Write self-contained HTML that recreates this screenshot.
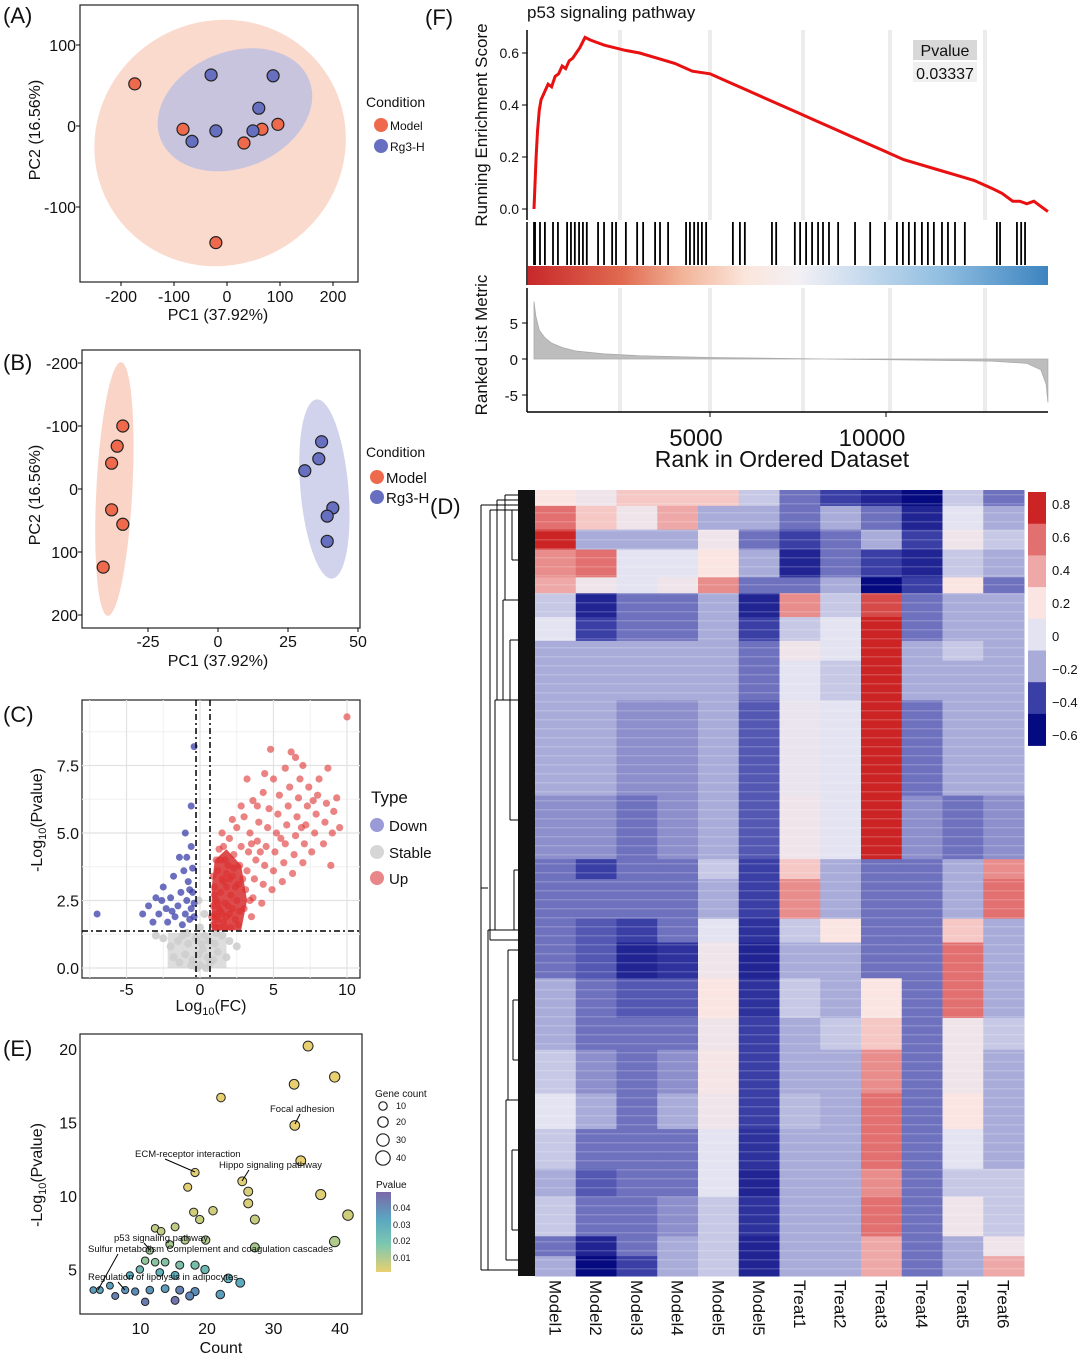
<!DOCTYPE html>
<html><head><meta charset="utf-8">
<style>
html,body{margin:0;padding:0;background:#fff}
svg{display:block;font-family:"Liberation Sans",Arial,sans-serif}
</style></head>
<body>
<svg id="fig" width="1080" height="1360" viewBox="0 0 1080 1360" xmlns="http://www.w3.org/2000/svg">
<defs>
<linearGradient id="rankbar" x1="0" x2="1" y1="0" y2="0">
<stop offset="0" stop-color="#c8282a"/><stop offset="0.18" stop-color="#e06a50"/><stop offset="0.3" stop-color="#f2b59a"/><stop offset="0.42" stop-color="#fbe6dc"/><stop offset="0.52" stop-color="#f3f0f4"/><stop offset="0.62" stop-color="#cfdff0"/><stop offset="0.8" stop-color="#8fbde0"/><stop offset="1" stop-color="#3d84c0"/>
</linearGradient>
<linearGradient id="pgrad" x1="0" x2="0" y1="0" y2="1">
<stop offset="0" stop-color="#7b68a8"/><stop offset="0.35" stop-color="#5aa8c0"/><stop offset="0.65" stop-color="#7cc7b0"/><stop offset="1" stop-color="#e8d070"/>
</linearGradient>
</defs>
</svg>
<script>
// ---------- DATA ----------
// Panel A (PCA)
const aModelX=[-174,-83,32,66,96,-21], aModelY=[52,-4,-21,-4,2,-144];
const aRgX=[-30,87,60,-66,-21,49], aRgY=[63,62,22,-19,-6,-6];
const aTicksX=[-200,-100,0,100,200], aTicksY=[100,0,-100];
// Panel B
const bModelX=[-34,-36,-38,-38,-34,-41], bModelY=[-100,-68,-41,33,56,124];
const bRgX=[37,36,31,41,39,39], bRgY=[-75,-48,-29,30,43,83];
const bTicksX=[-25,0,25,50], bTicksY=[-200,-100,0,100,200];
// Panel C (volcano)
const upPts=[[0.9,1.6],[1.0,2.0],[1.1,2.5],[1.0,3.0],[1.2,1.8],[1.3,2.2],[1.4,2.8],[1.5,3.3],[1.2,3.6],[1.6,1.7],[1.7,2.4],[1.8,3.0],[1.9,3.8],[2.0,2.0],[2.1,2.7],[2.2,3.4],[2.3,4.2],[1.4,4.0],[1.6,4.5],[2.0,4.8],[2.4,1.8],[2.5,2.5],[2.6,3.1],[2.7,3.8],[2.8,4.5],[2.5,5.2],[3.0,2.2],[3.1,2.9],[3.2,3.6],[3.3,4.3],[3.4,5.0],[3.0,5.6],[2.8,6.0],[3.5,1.9],[3.6,2.6],[3.7,3.3],[3.8,4.0],[3.9,4.7],[4.0,5.4],[3.6,6.2],[4.2,2.4],[4.3,3.1],[4.4,3.8],[4.5,4.5],[4.6,5.2],[4.7,5.9],[4.3,6.5],[4.9,2.9],[5.0,3.6],[5.1,4.3],[5.2,5.0],[5.3,5.7],[5.4,6.4],[5.0,7.0],[5.6,3.2],[5.7,3.9],[5.8,4.6],[5.9,5.3],[6.0,6.0],[6.1,6.7],[5.8,7.4],[6.3,3.5],[6.4,4.2],[6.5,4.9],[6.6,5.6],[6.7,6.3],[6.8,7.0],[6.5,7.8],[7.0,3.9],[7.1,4.6],[7.2,5.3],[7.3,6.0],[7.4,6.7],[7.0,7.5],[7.6,4.3],[7.8,5.0],[7.9,5.7],[8.0,6.4],[8.1,7.0],[8.4,4.6],[8.5,5.4],[8.6,6.1],[9.0,5.0],[9.1,5.8],[9.3,6.3],[8.9,3.8],[9.5,5.2],[4.8,8.1],[6.2,8.0],[3.2,7.0],[10.0,9.3],[1.1,1.5],[1.3,1.5],[1.5,2.0],[1.7,1.5],[2.1,1.5],[1.8,1.9],[0.9,2.3],[1.0,2.7],[1.2,2.4],[1.4,2.1],[2.2,2.2],[2.6,1.6],[1.6,3.2],[2.0,3.3],[2.4,3.0],[1.8,3.5],[1.5,5.0],[2.2,5.5],[1.3,4.4],[0.9,3.4],[1.1,4.0],[1.7,4.0],[2.3,3.7],[2.9,3.3],[3.4,2.5],[2.7,2.1],[1.9,2.3],[1.1,1.9],[0.8,1.9],[4.1,4.3],[3.5,4.6],[5.5,4.8],[6.9,5.2],[7.7,6.2],[8.7,7.4],[4.4,7.2],[3.9,6.0]];
const downPts=[[-7,2.0],[-3.9,2.0],[-3.5,2.3],[-3.2,1.7],[-3.0,2.6],[-2.8,2.0],[-2.5,3.0],[-2.3,2.2],[-2.2,1.7],[-2.0,2.6],[-1.8,3.4],[-1.7,1.9],[-1.5,2.3],[-1.3,2.8],[-1.2,1.6],[-1.0,2.0],[-0.9,2.5],[-0.8,3.2],[-0.7,1.8],[-0.6,2.2],[-0.5,2.8],[-0.9,4.1],[-0.6,4.5],[-1.0,5.0],[-1.4,4.1],[-0.6,6.0],[-0.4,8.2],[-0.5,3.7],[-2.6,2.5],[-1.9,2.1],[-1.1,3.6],[-0.4,1.9],[-0.7,2.9],[-0.4,2.4]];
const stablePts=[[-2,0.8],[-1.5,1.0],[-1,0.5],[-0.5,0.3],[0,0.1],[0.5,0.4],[1,0.9],[1.5,1.2],[-1.2,1.2],[-0.8,0.9],[0.2,0.7],[0.7,0.2],[-0.3,1.1],[0.3,1.2],[1.2,0.6],[-1.8,0.4],[-2.5,1.1],[2,1.0],[-0.1,0.5],[0.1,0.9],[-0.6,0.1],[0.6,1.0],[0.9,0.3],[-1.4,0.2],[1.8,0.4],[-0.2,0.0],[0.4,0.0],[-3,1.2],[2.5,0.8],[-0.9,1.3],[1.1,1.3],[0,1.5],[0.3,2.0],[-0.1,2.5]];
const cTicksX=[-5,0,5,10], cTicksY=[0,2.5,5,7.5];
// Panel E (KEGG bubble)
const eCount=[35.2,39.2,33.1,22.1,33.2,18.2,25.3,34.1,26.2,26.2,37.1,17.1,20.9,18.0,18.9,27.2,41.2,12.2,13.1,15.2,16.7,19.8,14.4,11.4,39.2,27.2,10.7,12.2,13.7,15.9,18.2,9.9,8.4,12.9,15.2,19.7,5.4,7.7,9.2,11.4,13.7,15.9,18.2,22.0,3.9,10.7,15.2,17.4,2.9,6.2,25.0,23.2];
const eLogP=[20.2,18.1,17.6,16.7,14.8,11.6,11.0,12.4,10.3,9.5,10.1,10.6,9.0,8.9,8.4,8.4,8.7,7.8,7.6,7.9,7.0,7.0,6.7,6.3,6.9,6.5,5.6,5.5,5.5,5.3,5.3,5.0,4.6,4.8,4.6,5.0,3.9,3.6,3.5,3.6,3.7,3.6,3.5,3.3,3.6,2.8,2.9,3.2,3.6,3.2,4.1,4.4];
const ePval=[0.005,0.005,0.005,0.005,0.005,0.006,0.006,0.005,0.007,0.007,0.006,0.006,0.008,0.008,0.009,0.009,0.008,0.010,0.010,0.010,0.012,0.012,0.013,0.014,0.012,0.013,0.016,0.017,0.018,0.019,0.020,0.022,0.025,0.024,0.025,0.022,0.030,0.032,0.035,0.033,0.030,0.038,0.035,0.030,0.028,0.040,0.042,0.036,0.030,0.038,0.026,0.024];
const eTicksX=[10,20,30,40], eTicksY=[5,10,15,20];
// Panel F (GSEA)
const esRank=[0,30,60,100,150,200,300,400,500,600,700,800,900,1000,1100,1200,1300,1450,1600,1800,2000,2300,2600,3000,3500,4000,4500,5000,5500,6000,6500,7000,7500,8000,8500,9000,9500,10000,10500,11000,11500,12000,12500,13000,13300,13600,13800,14000,14200,14400,14600];
const esVal=[0,0.10,0.20,0.30,0.38,0.42,0.45,0.48,0.47,0.51,0.52,0.55,0.54,0.57,0.58,0.60,0.62,0.66,0.65,0.64,0.63,0.62,0.61,0.60,0.58,0.56,0.53,0.52,0.49,0.46,0.43,0.40,0.37,0.34,0.31,0.28,0.25,0.22,0.19,0.17,0.15,0.13,0.11,0.08,0.06,0.03,0.03,0.02,0.03,0.01,-0.01];
const hitRanks=[0,30,170,310,540,680,940,1050,1160,1280,1390,1500,1820,1990,2220,2330,2610,2930,3100,3440,3580,3810,4320,4430,4550,4660,4770,4890,5650,5850,5990,6760,6880,7410,7560,7730,7900,8070,8210,8380,8640,9120,9550,9970,10310,10480,10650,10820,11020,11190,11360,11590,11760,11960,12240,13150,13240,13720,13840,13950];
const metRank=[0,50,150,300,500,800,1200,2000,3000,5000,7500,9000,11000,13000,14000,14400,14550,14600];
const metVal=[8,6,4,3,2.2,1.6,1.1,0.7,0.45,0.2,0.05,-0.05,-0.15,-0.3,-0.6,-1.5,-3.5,-6];
const fTicksX=[5000,10000], esTicks=[0,0.2,0.4,0.6], metTicks=[-5,0,5];
// Panel D (heatmap)
const hmCols=["Model1","Model2","Model3","Model4","Model5","Model5","Treat1","Treat2","Treat3","Treat4","Treat5","Treat6"];
const hmRowFrac=[0.02,0.03,0.025,0.035,0.02,0.03,0.03,0.025,0.05,0.12,0.08,0.025,0.05,0.03,0.045,0.05,0.04,0.055,0.045,0.05,0.035,0.05,0.025,0.025];
const hmVals=[
[0.2,0.1,0.3,0.3,0.3,-0.1,-0.3,-0.4,-0.5,-0.6,-0.1,-0.3],
[0.6,0.3,0.1,0.4,-0.2,-0.2,-0.3,-0.2,-0.3,-0.5,0.0,-0.2],
[0.8,-0.2,-0.2,-0.2,0.1,-0.3,-0.4,-0.3,-0.2,-0.4,0.1,-0.1],
[0.5,0.6,0.0,0.0,0.2,-0.2,-0.5,-0.3,-0.4,-0.5,-0.1,-0.2],
[0.4,0.1,0.0,0.1,0.5,-0.3,-0.3,-0.2,-0.6,-0.4,0.2,-0.3],
[-0.1,-0.5,-0.3,-0.3,-0.2,-0.5,0.5,-0.1,0.7,-0.3,-0.2,-0.2],
[0.0,-0.4,-0.3,-0.3,-0.2,-0.4,-0.1,0.0,0.8,-0.3,-0.2,-0.2],
[-0.2,-0.2,-0.2,-0.2,-0.2,-0.3,0.1,0.0,0.8,-0.2,-0.1,-0.2],
[-0.2,-0.2,-0.2,-0.2,-0.2,-0.3,0.0,-0.1,0.8,-0.2,-0.2,-0.2],
[-0.2,-0.2,-0.25,-0.25,-0.2,-0.35,0.05,0.0,0.8,-0.3,-0.2,-0.2],
[-0.25,-0.25,-0.3,-0.25,-0.2,-0.35,0.1,0.0,0.8,-0.25,-0.3,-0.25],
[-0.3,-0.4,-0.3,-0.3,-0.1,-0.4,0.3,-0.2,-0.3,-0.3,-0.2,0.5],
[-0.3,-0.3,-0.3,-0.3,-0.2,-0.4,0.5,-0.2,-0.3,-0.3,-0.2,0.6],
[-0.3,-0.35,-0.4,-0.3,0.0,-0.45,-0.1,0.2,-0.3,-0.3,0.3,-0.2],
[-0.3,-0.35,-0.5,-0.45,0.1,-0.5,-0.2,-0.2,-0.3,-0.3,0.6,-0.2],
[-0.2,-0.3,-0.35,-0.35,0.2,-0.45,-0.1,-0.2,0.2,-0.3,0.6,-0.2],
[-0.2,-0.3,-0.3,-0.3,0.1,-0.4,-0.2,-0.1,0.3,-0.3,0.1,-0.1],
[-0.1,-0.25,-0.3,-0.25,0.15,-0.4,-0.2,-0.2,0.5,-0.3,0.1,-0.2],
[0.0,-0.2,-0.3,-0.2,0.1,-0.4,-0.15,-0.2,0.6,-0.3,0.2,-0.2],
[-0.1,-0.3,-0.3,-0.3,0.0,-0.45,-0.2,-0.2,0.6,-0.3,0.0,-0.2],
[-0.2,-0.35,-0.3,-0.3,0.0,-0.5,-0.2,-0.2,0.5,-0.3,-0.1,-0.1],
[-0.1,-0.3,-0.3,-0.25,-0.1,-0.45,-0.2,-0.2,0.6,-0.3,0.1,-0.1],
[-0.3,-0.5,-0.3,-0.2,-0.1,-0.5,-0.2,-0.2,0.4,-0.3,-0.2,0.1],
[-0.2,-0.6,-0.4,-0.2,-0.1,-0.5,-0.2,-0.2,0.4,-0.3,-0.2,0.4]];
const legVals=[0.8,0.6,0.4,0.2,0,-0.2,-0.4,-0.6];

// ---------- HELPERS ----------
const NS="http://www.w3.org/2000/svg", svg=document.getElementById('fig');
function add(tag,attrs,name,parent,inter){
  const el=document.createElementNS(NS,tag);
  for(const k in attrs) el.setAttribute(k,attrs[k]);
  
  
  (parent||svg).appendChild(el); return el;
}
function txt(x,y,s,name,opt){
  opt=opt||{};
  const t=add('text',{x:x,y:y,'font-size':opt.fs||16,'text-anchor':opt.anchor||'start',fill:opt.fill||'#111','font-weight':opt.fw||'normal'},name);
  if(opt.rot) t.setAttribute('transform','rotate('+opt.rot+' '+x+' '+y+')');
  t.textContent=s; return t;
}
function line(x1,y1,x2,y2,name,st,w,dash){return add('line',{x1:x1,y1:y1,x2:x2,y2:y2,stroke:st||'#000','stroke-width':w||1,'stroke-dasharray':dash||'none'},name);}

// ---------- PANEL A ----------
const ax=v=>227+v*0.53, ay=v=>126-v*0.81;
add('rect',{x:80,y:5,width:278,height:277,fill:'#fff',stroke:'#222','stroke-width':1.2},'panel-a-frame');
add('ellipse',{cx:ax(-13),cy:ay(-21),rx:127,ry:122,fill:'#f9cdbd','fill-opacity':0.75,transform:'rotate(-30 '+ax(-13)+' '+ay(-21)+')'},'model-ellipse-a');
add('ellipse',{cx:ax(15),cy:ay(20),rx:80,ry:58,fill:'#b8bce2','fill-opacity':0.75,transform:'rotate(-22 '+ax(15)+' '+ay(20)+')'},'rg3h-ellipse-a');
aModelX.forEach((v,i)=>add('circle',{cx:ax(v),cy:ay(aModelY[i]),r:6,fill:'#ef6a4c',stroke:'#222','stroke-width':1.2},'model-point-a'));
aRgX.forEach((v,i)=>add('circle',{cx:ax(v),cy:ay(aRgY[i]),r:6,fill:'#6770c0',stroke:'#222','stroke-width':1.2},'rg3h-point-a'));
aTicksX.forEach(v=>{line(ax(v),282,ax(v),286,'x-tick-a');txt(ax(v),302,String(v),'x-tick-label-a',{anchor:'middle'});});
aTicksY.forEach(v=>{line(76,ay(v),80,ay(v),'y-tick-a');txt(76,ay(v)+6,String(v),'y-tick-label-a',{anchor:'end'});});
txt(218,320,'PC1 (37.92%)','x-axis-title-a',{anchor:'middle'});
txt(40,130,'PC2 (16.56%)','y-axis-title-a',{anchor:'middle',rot:-90});
txt(3,23,'(A)','panel-label-a',{fs:22});
txt(366,107,'Condition','legend-title-a',{fs:14});
add('circle',{cx:381,cy:125,r:7,fill:'#ef6a4c'},'legend-model-dot-a');txt(390,130,'Model','legend-model-a',{fs:12});
add('circle',{cx:381,cy:146,r:7,fill:'#6770c0'},'legend-rg3h-dot-a');txt(390,151,'Rg3-H','legend-rg3h-a',{fs:12});

// ---------- PANEL B ----------
const bx=v=>218+v*2.8, by=v=>489+v*0.63;
add('rect',{x:82,y:350,width:278,height:278,fill:'#fff',stroke:'#222','stroke-width':1.2},'panel-b-frame');
add('ellipse',{cx:bx(-37),cy:by(0),rx:18,ry:127,fill:'#f9cdbd','fill-opacity':0.85,transform:'rotate(3 '+bx(-37)+' '+by(0)+')'},'model-ellipse-b');
add('ellipse',{cx:bx(38),cy:by(0),rx:24,ry:90,fill:'#c8cbe8','fill-opacity':0.85,transform:'rotate(-5 '+bx(38)+' '+by(0)+')'},'rg3h-ellipse-b');
bModelX.forEach((v,i)=>add('circle',{cx:bx(v),cy:by(bModelY[i]),r:6,fill:'#ef6a4c',stroke:'#222','stroke-width':1.2},'model-point-b'));
bRgX.forEach((v,i)=>add('circle',{cx:bx(v),cy:by(bRgY[i]),r:6,fill:'#6770c0',stroke:'#222','stroke-width':1.2},'rg3h-point-b'));
bTicksX.forEach(v=>{line(bx(v),628,bx(v),632,'x-tick-b');txt(bx(v),647,String(v),'x-tick-label-b',{anchor:'middle'});});
bTicksY.forEach(v=>{line(78,by(v),82,by(v),'y-tick-b');txt(78,by(v)+6,String(v),'y-tick-label-b',{anchor:'end'});});
txt(218,666,'PC1 (37.92%)','x-axis-title-b',{anchor:'middle'});
txt(40,495,'PC2 (16.56%)','y-axis-title-b',{anchor:'middle',rot:-90});
txt(3,370,'(B)','panel-label-b',{fs:22});
txt(366,457,'Condition','legend-title-b',{fs:14});
add('circle',{cx:377,cy:477,r:7,fill:'#ef6a4c'},'legend-model-dot-b');txt(386,483,'Model','legend-model-b',{fs:15});
add('circle',{cx:377,cy:497,r:7,fill:'#6770c0'},'legend-rg3h-dot-b');txt(386,503,'Rg3-H','legend-rg3h-b',{fs:15});

// ---------- PANEL C ----------
const cx=v=>200+v*14.7, cy=v=>968-v*27;
add('rect',{x:82,y:700,width:278,height:278,fill:'#fff',stroke:'#222','stroke-width':1.2},'panel-c-frame');
[-7.5,-2.5,2.5,7.5].forEach(v=>line(cx(v),700,cx(v),978,'minor-grid-c','#f0f0f0',1));
[1.25,3.75,6.25,8.75].forEach(v=>line(82,cy(v),360,cy(v),'minor-grid-c','#f0f0f0',1));
cTicksX.forEach(v=>line(cx(v),700,cx(v),978,'grid-x-c','#e2e2e2',1.2));
cTicksY.forEach(v=>line(82,cy(v),360,cy(v),'grid-y-c','#e2e2e2',1.2));
stablePts.forEach(p=>add('circle',{cx:cx(p[0]),cy:cy(p[1]),r:4,fill:'#c8c8c8','fill-opacity':0.8},'stable-point'));
add('rect',{x:cx(-2.2),y:cy(1.3),width:cx(1.8)-cx(-2.2),height:cy(0)-cy(1.3),fill:'#cfcfcf','fill-opacity':0.7},'stable-cloud');
downPts.forEach(p=>add('circle',{cx:cx(p[0]),cy:cy(p[1]),r:3.5,fill:'#3a3fa8','fill-opacity':0.75},'down-point'));
add('polygon',{points:[[0.8,1.4],[2.8,1.4],[3.2,2.5],[2.8,3.8],[1.8,4.4],[1.0,4.0],[0.8,3]].map(p=>cx(p[0])+','+cy(p[1])).join(' '),fill:'#d42020','fill-opacity':0.8},'up-cloud');
upPts.forEach(p=>add('circle',{cx:cx(p[0]),cy:cy(p[1]),r:3.6,fill:'#dd3030','fill-opacity':0.6},'up-point'));
line(cx(-0.27),700,cx(-0.27),978,'fc-threshold-down','#000',1.5,'6,3,2,3');
line(cx(0.68),700,cx(0.68),978,'fc-threshold-up','#000',1.5,'6,3,2,3');
line(82,cy(1.37),360,cy(1.37),'pvalue-threshold','#000',1.5,'6,3,2,3');
cTicksX.forEach(v=>txt(cx(v),995,String(v),'x-tick-label-c',{anchor:'middle'}));
cTicksY.forEach(v=>txt(79,cy(v)+6,v.toFixed(1),'y-tick-label-c',{anchor:'end'}));
(function(){const t=txt(211,1011,'Log','x-axis-title-c',{anchor:'middle'});t.innerHTML='Log<tspan font-size="11" dy="4">10</tspan><tspan dy="-4">(FC)</tspan>';})();
(function(){const t=txt(42,820,'','y-axis-title-c',{anchor:'middle',rot:-90});t.innerHTML='-Log<tspan font-size="11" dy="4">10</tspan><tspan dy="-4">(Pvalue)</tspan>';})();
txt(3,722,'(C)','panel-label-c',{fs:22});
txt(371,803,'Type','legend-title-c',{fs:17});
[['Down','#9a9ad8',825],['Stable','#d6d6d6',852],['Up','#e8868a',878]].forEach(d=>{add('circle',{cx:377,cy:d[2],r:7,fill:d[1]},'legend-dot-c');txt(389,d[2]+6,d[0],'legend-label-c',{fs:15});});

// ---------- PANEL E ----------
const ex=v=>74+v*6.65, ey=v=>1343-v*14.7;
add('rect',{x:80,y:1034,width:282,height:280,fill:'#fff',stroke:'#222','stroke-width':1.2},'panel-e-frame');
function pcol(p){const st=[[0.005,[232,208,112]],[0.015,[150,200,150]],[0.025,[90,175,190]],[0.035,[90,140,185]],[0.045,[123,104,168]]];
 if(p<=st[0][0])return 'rgb('+st[0][1]+')';for(let i=1;i<st.length;i++){if(p<=st[i][0]){const f=(p-st[i-1][0])/(st[i][0]-st[i-1][0]);return 'rgb('+st[i][1].map((c,j)=>Math.round(st[i-1][1][j]+f*(c-st[i-1][1][j]))).join(',')+')';}}return 'rgb('+st[4][1]+')';}
eCount.forEach((c,i)=>add('circle',{cx:ex(c),cy:ey(eLogP[i]),r:3.2+c*0.05,fill:pcol(ePval[i]),stroke:'#222','stroke-width':1},'kegg-bubble'));
eTicksX.forEach(v=>txt(ex(v),1334,String(v),'x-tick-label-e',{anchor:'middle'}));
eTicksY.forEach(v=>txt(77,ey(v)+6,String(v),'y-tick-label-e',{anchor:'end'}));
txt(221,1353,'Count','x-axis-title-e',{anchor:'middle'});
(function(){const t=txt(42,1175,'','y-axis-title-e',{anchor:'middle',rot:-90});t.innerHTML='-Log<tspan font-size="11" dy="4">10</tspan><tspan dy="-4">(Pvalue)</tspan>';})();
txt(3,1056,'(E)','panel-label-e',{fs:22});
[['Focal adhesion',270,1112,295,1124],['ECM-receptor interaction',135,1157,195,1172],['Hippo signaling pathway',219,1168,242,1181],['p53 signaling pathway',114,1241,150,1250],['Sulfur metabolism Complement and coagulation cascades',88,1252,98,1290],['Regulation of lipolysis in adipocytes',88,1280,125,1290]].forEach(d=>{line(d[1]+30,d[2]+2,d[3],d[4],'label-leader');txt(d[1],d[2],d[0],'pathway-label',{fs:9.5});});
txt(375,1097,'Gene count','legend-title-gene-count',{fs:10});
[[10,1106],[20,1122],[30,1140],[40,1158]].forEach(d=>{add('circle',{cx:383,cy:d[1],r:3.2+d[0]*0.1,fill:'none',stroke:'#222','stroke-width':1.2},'legend-size-circle');txt(396,d[1]+3,String(d[0]),'legend-size-label',{fs:9});});
txt(376,1188,'Pvalue','legend-title-pvalue',{fs:10});
add('rect',{x:376,y:1192,width:15,height:80,fill:'url(#pgrad)'},'pvalue-colorbar');
[['0.04',1208],['0.03',1225],['0.02',1241],['0.01',1258]].forEach(d=>txt(393,d[1]+3,d[0],'pvalue-tick-label',{fs:9}));

// ---------- PANEL F ----------
const fx=r=>534+r*0.0352, fy=e=>209-e*260, my=m=>359-m*7.2;
txt(425,25,'(F)','panel-label-f',{fs:22});
txt(527,18,'p53 signaling pathway','gsea-title',{fs:17});
[620,710,803,890,985].forEach(x=>{add('rect',{x:x-2,y:30,width:4,height:190,fill:'#ececec'},'gsea-gridband');add('rect',{x:x-2,y:288,width:4,height:124,fill:'#ececec'},'metric-gridband');});
line(527,30,527,220,'es-y-axis','#000',1.5);
esTicks.forEach(v=>{line(522,fy(v),527,fy(v),'es-tick');txt(519,fy(v)+5,v.toFixed(1),'es-tick-label',{anchor:'end',fs:14});});
add('polyline',{points:esRank.map((r,i)=>fx(r)+','+fy(esVal[i])).join(' '),fill:'none',stroke:'#e81010','stroke-width':3},'enrichment-curve');
add('rect',{x:913,y:40,width:64,height:20,fill:'#d8d8d8'},'pvalue-box');
txt(945,56,'Pvalue','pvalue-label',{anchor:'middle',fs:16});
add('rect',{x:913,y:62,width:64,height:20,fill:'#f0f0f0'},'pvalue-value-box');
txt(945,79,'0.03337','pvalue-value',{anchor:'middle',fs:16});
line(527,222,527,285,'hits-axis','#000',1.5);
hitRanks.forEach(r=>line(fx(r),222,fx(r),265,'gene-hit','#000',1.8));
add('rect',{x:528,y:266,width:520,height:19,fill:'url(#rankbar)'},'rank-colorbar');
line(527,288,527,412,'metric-y-axis','#000',1.5);
line(527,412,1048,412,'metric-x-axis','#000',1.5);
add('polygon',{points:fx(0)+','+my(0)+' '+metRank.map((r,i)=>fx(r)+','+my(metVal[i])).join(' ')+' '+fx(14600)+','+my(0),fill:'#bdbdbd',stroke:'#aaa','stroke-width':0.8},'ranked-metric-area');
metTicks.forEach(v=>{line(522,my(v),527,my(v),'metric-tick');txt(518,my(v)+6,String(v),'metric-tick-label',{anchor:'end',fs:15});});
fTicksX.forEach(v=>{line(fx(v),412,fx(v),417,'rank-tick');txt(fx(v)-14,446,String(v),'rank-tick-label',{anchor:'middle',fs:24});});
txt(782,467,'Rank in Ordered Dataset','rank-axis-title',{anchor:'middle',fs:23});
txt(487,125,'Running Enrichment Score','es-axis-title',{anchor:'middle',rot:-90,fs:17});
txt(487,345,'Ranked List Metric','metric-axis-title',{anchor:'middle',rot:-90,fs:17});

// ---------- PANEL D ----------
txt(430,514,'(D)','panel-label-d',{fs:22});
const hmX0=535,hmX1=1024,hmY0=490,hmY1=1276,cw=(hmX1-hmX0)/hmCols.length;
const cstops=[[-0.6,[6,10,128]],[-0.4,[58,63,166]],[-0.3,[110,113,189]],[-0.2,[169,172,217]],[0,[227,227,241]],[0.2,[251,229,226]],[0.4,[238,168,168]],[0.6,[226,112,112]],[0.8,[204,36,36]]];
function hcol(v){if(v<=cstops[0][0])return 'rgb('+cstops[0][1]+')';for(let i=1;i<cstops.length;i++){if(v<=cstops[i][0]){const f=(v-cstops[i-1][0])/(cstops[i][0]-cstops[i-1][0]);return 'rgb('+cstops[i][1].map((c,j)=>Math.round(cstops[i-1][1][j]+f*(c-cstops[i-1][1][j]))).join(',')+')';}}return 'rgb('+cstops[cstops.length-1][1]+')';}
const fsum=hmRowFrac.reduce((a,b)=>a+b,0);
let yc=hmY0;
hmRowFrac.forEach((fr,ri)=>{const h=fr/fsum*(hmY1-hmY0);
  hmVals[ri].forEach((v,ci)=>add('rect',{x:hmX0+ci*cw,y:yc,width:cw+0.5,height:h+0.5,fill:hcol(v)},'heatmap-cell'));
  yc+=h;});
// horizontal stripe texture
for(let y=hmY0+4;y<hmY1;y+=9){add('rect',{x:hmX0,y:y,width:hmX1-hmX0,height:1.5,fill:'#ffffff','fill-opacity':0.18},'heatmap-stripe');}
hmCols.forEach((c,i)=>{txt(hmX0+i*cw+cw/2-6,1280,c,'column-label',{rot:90,fs:17});});
// dendrogram
add('rect',{x:518,y:hmY0,width:17,height:hmY1-hmY0,fill:'#111'},'dendrogram-leaves');
[[481,505,1270],[490,510,940],[488,930,1270],[497,500,700],[495,700,930],[505,495,600],[503,600,700],[508,950,1100],[506,1100,1260],[512,510,560],[510,640,820],[514,870,930],[513,1000,1060],[512,1150,1230]].forEach(d=>{line(d[0],d[1],d[0],d[2],'dendrogram-branch');line(d[0],d[1],518,d[1],'dendrogram-branch');line(d[0],d[2],518,d[2],'dendrogram-branch');});
line(481,888,488,888,'dendrogram-branch');
// color legend
legVals.forEach((v,i)=>add('rect',{x:1028,y:492+i*31.7,width:18,height:32,fill:hcol(v)},'color-legend-swatch'));
legVals.forEach((v,i)=>txt(1052,509+i*33,v===0?'0':(v<0?'\u2212'+Math.abs(v):String(v)),'color-legend-label',{fs:13}));
</script>
</body></html>
